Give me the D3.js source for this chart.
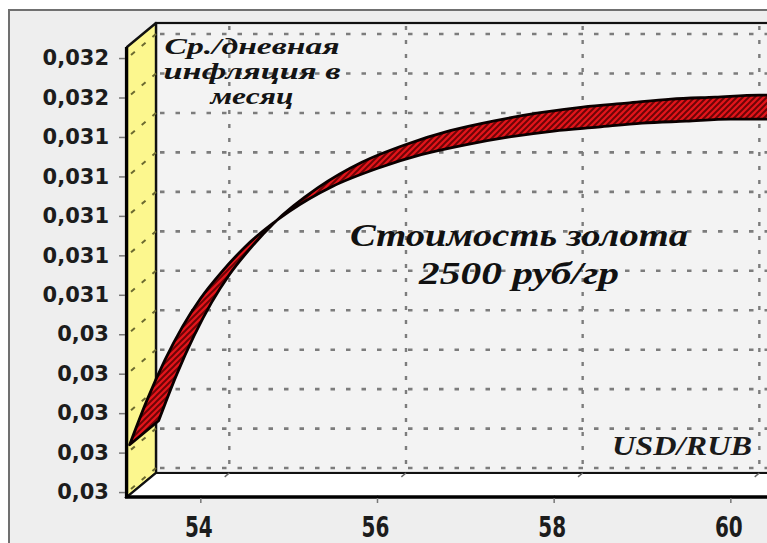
<!DOCTYPE html>
<html>
<head>
<meta charset="utf-8">
<script src="https://cdn.jsdelivr.net/npm/d3@7"></script>
<style>
  html, body { margin: 0; padding: 0; background: #ffffff; }
  svg { display: block; }
</style>
</head>
<body>
<svg id="chart" width="767" height="543"></svg>
<script>
// ---------------- data ----------------
const usdRub = [53.2, 53.4, 53.6, 53.8, 54, 54.25, 54.5, 55, 55.5, 56, 56.5, 57, 57.5, 58, 58.5, 59, 59.5, 60, 60.5];
const inflation = [0.02984, 0.03007, 0.03027, 0.03044, 0.03058, 0.03072, 0.03084, 0.03102, 0.03115, 0.03124,
                   0.03131, 0.03136, 0.03140, 0.03143, 0.03145, 0.03147, 0.03148, 0.03149, 0.03149];
const yTicks = [0.0296, 0.0298, 0.0300, 0.0302, 0.0304, 0.0306, 0.0308, 0.0310, 0.0312, 0.0314, 0.0316, 0.0318];
const yTickLabels = ["0,03", "0,03", "0,03", "0,03", "0,03", "0,031", "0,031", "0,031", "0,031", "0,031", "0,032", "0,032"];
const xTicks = [54, 56, 58, 60];
const xTickLabels = ["54", "56", "58", "60"];
const yTitleLines = ["Ср./дневная", "инфляция в", "месяц"];
const noteLines = ["Стоимость золота", "2500 руб/гр"];
const xTitle = "USD/RUB";

// ---------------- layout ----------------
const svg = d3.select("#chart");
const X0 = 127, X1 = 774.5, Y0 = 497, Y1 = 47;
const DX = 29, DY = 24;          // 3D depth offset
const RIGHT = 820;

const x = d3.scaleLinear().domain([53.17, 60.5]).range([X0, X1]);
const y = d3.scaleLinear().domain([0.029575, 0.031856]).range([Y0, Y1]);

// pattern for ribbon
const defs = svg.append("defs");
const pat = defs.append("pattern").attr("id", "hatch").attr("patternUnits", "userSpaceOnUse")
  .attr("width", 6).attr("height", 6);
pat.append("rect").attr("width", 6).attr("height", 6).attr("fill", "#e4141a");
pat.append("path").attr("d", "M-1,1 l2,-2 M0,6 l6,-6 M5,7 l2,-2")
  .attr("stroke", "#6e0406").attr("stroke-width", 2);

// panel
svg.append("rect").attr("x", 9).attr("y", 10).attr("width", 820).attr("height", 620)
  .attr("fill", "#eeeeee").attr("stroke", "#707070").attr("stroke-width", 2);

// back wall
svg.append("rect").attr("x", X0 + DX).attr("y", Y1 - DY)
  .attr("width", RIGHT - (X0 + DX)).attr("height", Y0 - Y1)
  .attr("fill", "#f3f3f3").attr("stroke", "#111").attr("stroke-width", 2.2);

const gridStyle = sel => sel.attr("stroke", "#7c7c7c").attr("stroke-width", 2.6)
  .attr("stroke-dasharray", "4.5 11").attr("fill", "none");

// back wall gridlines
svg.append("g").selectAll("line").data(yTicks).join("line")
  .attr("x1", X0 + DX + 4).attr("x2", RIGHT)
  .attr("y1", d => y(d) - DY).attr("y2", d => y(d) - DY)
  .call(gridStyle);
svg.append("g").selectAll("line").data(xTicks).join("line")
  .attr("x1", d => x(d) + DX).attr("x2", d => x(d) + DX)
  .attr("y1", Y1 - DY + 3).attr("y2", Y0 - DY)
  .call(gridStyle).attr("stroke-dasharray", "4 10").attr("stroke-width", 2.4);

// left wall
svg.append("path")
  .attr("d", `M${X0},${Y1} L${X0 + DX},${Y1 - DY} L${X0 + DX},${Y0 - DY} L${X0},${Y0} Z`)
  .attr("fill", "#fcf78e").attr("stroke", "#111").attr("stroke-width", 2.4).attr("stroke-linejoin", "round");
svg.append("g").selectAll("line").data(yTicks).join("line")
  .attr("x1", X0 + 4).attr("y1", d => y(d) - 3)
  .attr("x2", X0 + DX).attr("y2", d => y(d) - DY)
  .attr("stroke", "#6b6a30").attr("stroke-width", 2).attr("stroke-dasharray", "5 9");

// floor
svg.append("path")
  .attr("d", `M${X0},${Y0} L${X0 + DX},${Y0 - DY} L${RIGHT},${Y0 - DY} L${RIGHT},${Y0} Z`)
  .attr("fill", "#ffffff").attr("stroke", "#111").attr("stroke-width", 2.2);
svg.append("g").selectAll("line").data(xTicks).join("line")
  .attr("x1", d => x(d) + DX).attr("y1", Y0 - DY)
  .attr("x2", d => x(d)).attr("y2", Y0)
  .attr("stroke", "#666").attr("stroke-width", 1.5).attr("stroke-dasharray", "6 30");

// ribbon (3D line)
const pts = usdRub.map((v, i) => ({ x: v, y: inflation[i] }));
const ribbon = d3.area()
  .x0(d => x(d.x)).y0(d => y(d.y))
  .x1(d => x(d.x) + DX).y1(d => y(d.y) - DY)
  .curve(d3.curveMonotoneX);
svg.append("path").datum(pts).attr("d", ribbon)
  .attr("fill", "url(#hatch)").attr("stroke", "#0a0000").attr("stroke-width", 2.8)
  .attr("stroke-linejoin", "round");

// front edges (axis lines)
svg.append("line").attr("x1", X0 - 0.5).attr("x2", X0 - 0.5).attr("y1", Y1).attr("y2", Y0 + 1)
  .attr("stroke", "#000").attr("stroke-width", 3.2);
svg.append("line").attr("x1", X0 - 2).attr("x2", RIGHT).attr("y1", Y0).attr("y2", Y0)
  .attr("stroke", "#000").attr("stroke-width", 3.4);

// axes
const yAxis = svg.append("g").attr("transform", `translate(${X0 - 2},0)`)
  .call(d3.axisLeft(y).tickValues(yTicks).tickFormat((d, i) => yTickLabels[i]).tickSize(6).tickPadding(10));
yAxis.select(".domain").remove();
yAxis.selectAll(".tick line").attr("stroke", "#777").attr("stroke-width", 1.5);
yAxis.selectAll(".tick text").attr("font-family", "'DejaVu Sans', sans-serif")
  .attr("font-weight", "bold").attr("font-size", 21).attr("fill", "#1c1c1c");

const xAxis = svg.append("g").attr("transform", `translate(0,${Y0 + 1})`)
  .call(d3.axisBottom(x).tickValues(xTicks).tickFormat((d, i) => xTickLabels[i]).tickSize(5).tickPadding(8));
xAxis.select(".domain").remove();
xAxis.selectAll(".tick line").attr("stroke", "#777").attr("stroke-width", 1.5);
xAxis.selectAll(".tick text")
  .attr("y", 0).attr("dy", 0)
  .attr("transform", "translate(-2,39) scale(1,1.42)")
  .attr("font-family", "'DejaVu Sans', sans-serif").attr("font-weight", "bold")
  .attr("font-size", 20).attr("fill", "#1c1c1c");

// texts
const serif = "'Liberation Serif', 'DejaVu Serif', serif";
const yTitleLens = [175, 177, 83];
const yTitleBase = [54, 79, 104];
svg.append("g").selectAll("text").data(yTitleLines).join("text")
  .attr("x", 252).attr("y", (d, i) => yTitleBase[i]).attr("text-anchor", "middle")
  .attr("textLength", (d, i) => yTitleLens[i]).attr("lengthAdjust", "spacingAndGlyphs")
  .attr("font-family", serif).attr("font-style", "italic").attr("font-weight", "bold")
  .attr("font-size", 24).attr("fill", "#141414").text(d => d);

const noteLens = [338, 200];
const noteBase = [246, 284];
svg.append("g").selectAll("text").data(noteLines).join("text")
  .attr("x", 519).attr("y", (d, i) => noteBase[i]).attr("text-anchor", "middle")
  .attr("textLength", (d, i) => noteLens[i]).attr("lengthAdjust", "spacingAndGlyphs")
  .attr("font-family", serif).attr("font-style", "italic").attr("font-weight", "bold")
  .attr("font-size", 31).attr("fill", "#111").text(d => d);

svg.append("text").attr("x", 752).attr("y", 455).attr("text-anchor", "end")
  .attr("textLength", 140).attr("lengthAdjust", "spacingAndGlyphs")
  .attr("font-family", serif).attr("font-style", "italic").attr("font-weight", "bold")
  .attr("font-size", 27).attr("fill", "#1a1a1a").text(xTitle);
</script>
</body>
</html>
